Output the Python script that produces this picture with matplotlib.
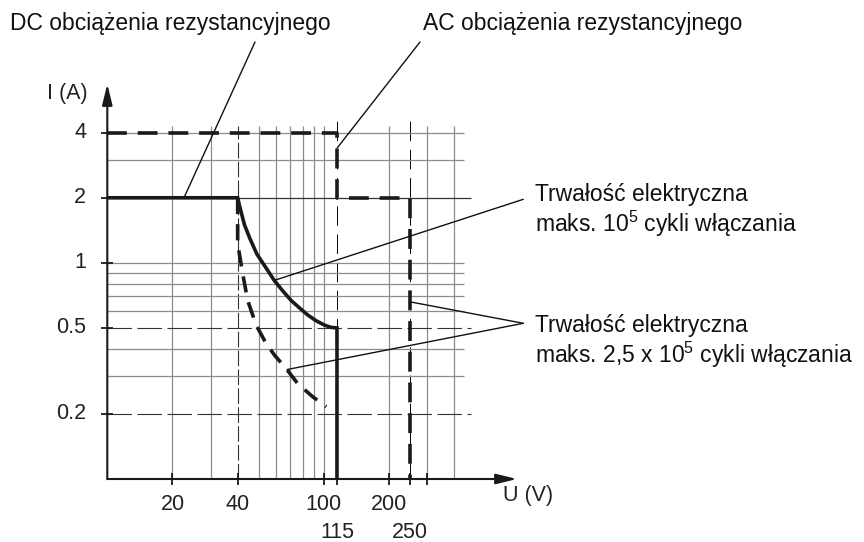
import numpy as np
import matplotlib
matplotlib.use("Agg")
import matplotlib.pyplot as plt
from matplotlib.ticker import NullLocator

plt.rcParams['font.family'] = ['Liberation Sans', 'DejaVu Sans']
plt.rcParams['mathtext.fontset'] = 'custom'
plt.rcParams['mathtext.rm'] = 'Liberation Sans'
plt.rcParams['mathtext.it'] = 'Liberation Sans:italic'

# --- data (U in V, I in A) ---
# AC resistive load limit
ac_u = [10, 115, 115, 250, 250]
ac_i = [4, 4, 2, 2, 0.1]
# DC resistive load, 10^5 cycles (solid)
dc1_u = [10, 40, 41, 43, 45.5, 49, 54, 59, 64, 70.6, 77, 84.4, 92, 100.7, 108, 115, 115]
dc1_i = [2, 2, 1.8, 1.5, 1.3, 1.1, 0.95, 0.83, 0.75, 0.67, 0.62, 0.573, 0.54, 0.515, 0.503, 0.5, 0.1]
# DC resistive load, 2.5 x 10^5 cycles (dashed)
dc2_u = [40, 40, 42.2, 44.5, 48.7, 54.1, 59.2, 67, 75.8, 88.9, 102.6]
dc2_i = [2, 1.23, 0.89, 0.67, 0.515, 0.424, 0.374, 0.324, 0.276, 0.24, 0.216]

# grid
v_grid = [20, 30, 50, 60, 70, 80, 90, 100, 200, 300, 400]
h_grid = [4, 3, 1, 0.9, 0.8, 0.7, 0.6, 0.4, 0.3]
h_key = [2, 0.5, 0.2]

x_ticks = [20, 40, 100, 115, 200, 250, 300]
x_labels_row1 = {20: '20', 40: '40', 100: '100', 200: '200'}
x_labels_row2 = {115: '115', 250: '250'}
y_ticks = [4, 2, 1, 0.5, 0.2]
y_labels = ['4', '2', '1', '0.5', '0.2']

# leader anchor points on the curves
dc_lead = (22.6, 2)
ac_lead = (115, 3.39)
life1_lead = (59.2, 0.83)
life2_leads = [(250, 0.66), (67.7, 0.321)]

fig = plt.figure(figsize=(8.64, 5.42), dpi=100)
W, H = 864, 542
ax = fig.add_axes([107.3 / W, 63 / H, 409.7 / W, 395 / H])
ax.set_xscale('log')
ax.set_yscale('log')
ax.set_xlim(10, 780)
ax.set_ylim(0.1, 6.72)

grey = '#8c8c8c'
dark = '#333333'
# grid lines
ax.vlines(v_grid, 0.1, 4.3, color=grey, lw=0.9, zorder=1)
ax.vlines([40], 0.1, 4.3, color=dark, lw=0.8, linestyles=[(0, (14, 3))], zorder=1)
ax.vlines([115, 250], 0.1, 4.75, color='black', lw=0.7, linestyles=[(0, (20, 9))], zorder=1)
ax.hlines(h_grid, 10, 444, color=grey, lw=0.9, zorder=1)
ax.hlines([2], 10, 476, color=dark, lw=0.9, zorder=1)
ax.hlines(h_key[1:], 10, 476, color=dark, lw=0.8, linestyles=[(0, (22, 5))], zorder=1)

# curves
ax.plot(ac_u, ac_i, color='#1a1a1a', lw=2.6, linestyle=(0, (5.5, 3)), zorder=3,
        solid_joinstyle='miter', dash_capstyle='butt')
ax.plot(dc1_u, dc1_i, color='#1a1a1a', lw=2.6, zorder=3, solid_joinstyle='miter')
ax.plot(dc2_u, dc2_i, color='#1a1a1a', lw=2.6, linestyle=(0, (4.5, 2.8)), zorder=3)

# axes, ticks
for s in ax.spines.values():
    s.set_visible(False)
ax.xaxis.set_minor_locator(NullLocator())
ax.yaxis.set_minor_locator(NullLocator())
ax.set_xticks(x_ticks)
ax.set_yticks(y_ticks)
ax.set_xticklabels([])
ax.set_yticklabels([])
ax.tick_params(direction='inout', length=8, width=1.3, color='#1a1a1a')

arrow = dict(arrowstyle='-|>,head_length=0.9,head_width=0.22', lw=1.5, color='#1a1a1a',
             shrinkA=0, shrinkB=0, mutation_scale=14)
ax.annotate('', xy=(1, 0), xytext=(0, 0), xycoords='axes fraction', arrowprops=arrow)
ax.annotate('', xy=(0, 1), xytext=(0, 0), xycoords='axes fraction', arrowprops=arrow)

tick_fs = 15.5
for x, lab in x_labels_row1.items():
    ax.annotate(lab, xy=(x, 0), xycoords=('data', 'axes fraction'), xytext=(0, -26),
                textcoords='offset pixels', ha='center', va='center', fontsize=tick_fs, color='#222')
for x, lab in x_labels_row2.items():
    ax.annotate(lab, xy=(x, 0), xycoords=('data', 'axes fraction'), xytext=(0, -53),
                textcoords='offset pixels', ha='center', va='center', fontsize=tick_fs, color='#222')
for y, lab in zip(y_ticks, y_labels):
    ax.annotate(lab, xy=(0, y), xycoords=('axes fraction', 'data'), xytext=(-21, 0),
                textcoords='offset pixels', ha='right', va='center', fontsize=tick_fs, color='#222')

fig.text(88 / W, 1 - 93 / H, 'I (A)', ha='right', va='center', fontsize=tick_fs, color='#222')
fig.text(503 / W, 1 - 496 / H, 'U (V)', ha='left', va='center', fontsize=tick_fs, color='#222')

# annotations
txt_fs = 16.5
fig.text(10 / W, 1 - 30 / H, 'DC obciążenia rezystancyjnego', ha='left', va='baseline',
         fontsize=txt_fs, color='#111')
fig.text(422.7 / W, 1 - 30 / H, 'AC obciążenia rezystancyjnego', ha='left', va='baseline',
         fontsize=txt_fs, color='#111')
fig.text(535 / W, 1 - 211 / H, 'Trwałość elektryczna\nmaks. 10$^5$ cykli włączania',
         ha='left', va='center', fontsize=txt_fs, color='#111', linespacing=1.15)
fig.text(535 / W, 1 - 342 / H, 'Trwałość elektryczna\nmaks. 2,5 x 10$^5$ cykli włączania',
         ha='left', va='center', fontsize=txt_fs, color='#111', linespacing=1.15)

lead = dict(arrowstyle='-', lw=1.0, color='#111', shrinkA=0, shrinkB=0)
ax.annotate('', xy=dc_lead, xytext=(255, H - 42), textcoords='figure pixels', arrowprops=lead)
ax.annotate('', xy=ac_lead, xytext=(420, H - 42), textcoords='figure pixels', arrowprops=lead)
ax.annotate('', xy=life1_lead, xytext=(523.3, H - 199.3), textcoords='figure pixels', arrowprops=lead)
for p in life2_leads:
    ax.annotate('', xy=p, xytext=(523.3, H - 323.3), textcoords='figure pixels', arrowprops=lead)

fig.savefig('out.png', dpi=100)
